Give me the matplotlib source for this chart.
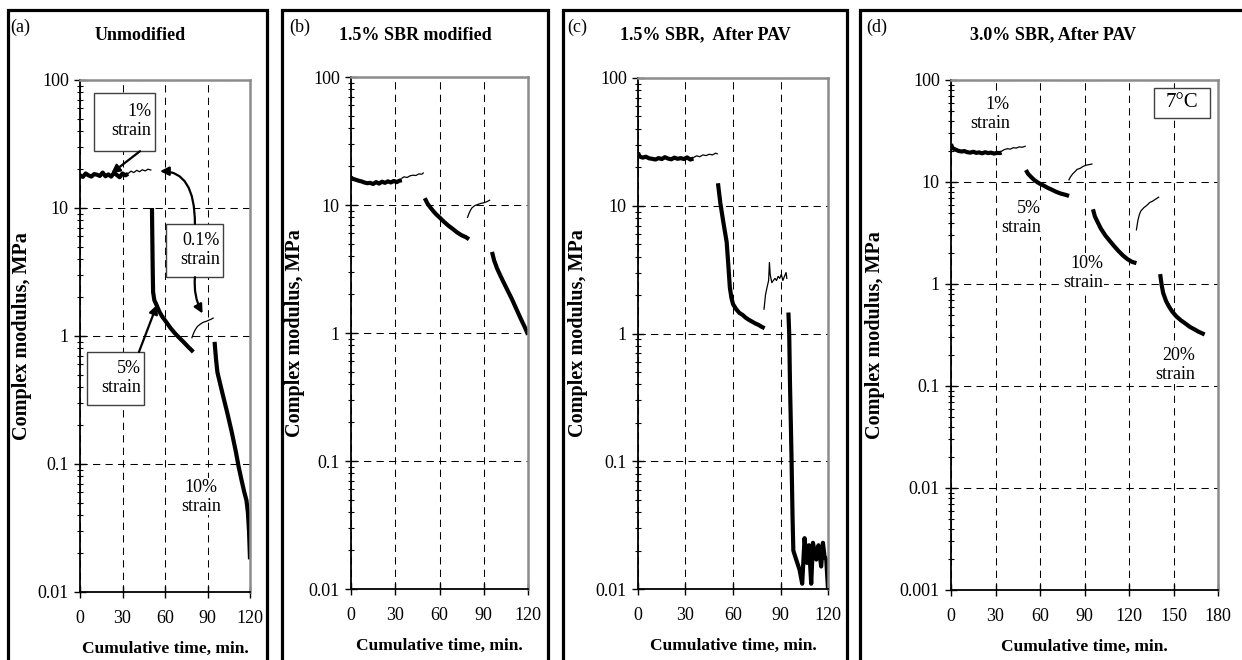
import matplotlib
matplotlib.use("Agg")
import matplotlib.pyplot as plt
from matplotlib.patches import Rectangle
from matplotlib.ticker import (LogLocator, FixedLocator, FuncFormatter, NullFormatter,
                               MultipleLocator)

plt.rcParams["font.family"] = ["Liberation Serif", "DejaVu Serif"]

# ---- data (time in min, complex modulus in MPa) ----
# (a) unmodified
A_T_1 = [0, 2, 4, 6, 8, 10, 12, 14, 16, 18, 20, 22, 24, 26, 28, 30, 32, 34]
A_G_1 = [18.0, 17.5, 18.6, 18.0, 17.6, 18.4, 18.2, 17.8, 18.9, 17.7, 18.3, 17.6, 18.8, 18.1, 17.4, 18.6, 18.0, 18.5]
A_T_01a = [34, 36, 38, 40, 42, 44, 46, 48, 50]
A_G_01a = [18.6, 19.4, 18.9, 19.7, 19.2, 19.9, 19.5, 20.1, 19.8]
A_T_5 = [50.8, 51.0, 51.3, 51.6, 52.5, 54, 56, 58, 61, 64, 67, 70, 73, 76, 78, 80]
A_G_5 = [10.0, 6.5, 3.5, 2.2, 1.9, 1.75, 1.55, 1.42, 1.28, 1.15, 1.05, 0.97, 0.90, 0.83, 0.79, 0.75]
A_T_01b = [79, 80, 81, 82, 83, 85, 87, 89, 91, 93, 94]
A_G_01b = [0.97, 1.04, 1.10, 1.15, 1.19, 1.24, 1.28, 1.30, 1.33, 1.36, 1.38]
A_T_10 = [95, 96, 97, 99, 101, 104, 107, 110, 112, 114, 116, 117.5, 118.5, 119.3, 120]
A_G_10 = [0.90, 0.66, 0.52, 0.42, 0.34, 0.25, 0.18, 0.125, 0.095, 0.075, 0.060, 0.052, 0.042, 0.030, 0.018]

# (b) 1.5% SBR modified
B_T_1 = [0, 1, 3, 5, 7, 9, 11, 13, 15, 17, 19, 21, 23, 25, 27, 29, 31, 33, 34.5]
B_G_1 = [16.5, 16.0, 15.8, 15.5, 15.3, 15.0, 14.8, 14.9, 14.6, 15.1, 14.7, 15.2, 14.9, 15.3, 15.0, 15.4, 15.1, 15.5, 15.6]
B_T_01a = [34.5, 36, 38, 40, 42, 44, 46, 48, 49]
B_G_01a = [16.2, 16.6, 16.4, 16.9, 17.1, 17.0, 17.5, 17.4, 17.8]
B_T_5 = [50, 52, 54, 56, 58, 60, 63, 66, 69, 72, 75, 78, 80]
B_G_5 = [11.3, 10.2, 9.5, 8.9, 8.4, 8.0, 7.4, 6.9, 6.5, 6.1, 5.8, 5.6, 5.4]
B_T_01b = [79, 80, 81, 82, 84, 86, 88, 90, 92, 94]
B_G_01b = [8.0, 8.6, 9.1, 9.5, 9.9, 10.1, 10.3, 10.4, 10.6, 10.9]
B_T_10 = [95.6, 97, 99, 101, 103, 106, 109, 112, 115, 118, 120]
B_G_10 = [4.3, 3.7, 3.2, 2.85, 2.55, 2.17, 1.85, 1.55, 1.3, 1.1, 0.97]

# (c) 1.5% SBR, after PAV
C_T_1 = [0, 1, 3, 5, 7, 9, 11, 13, 15, 17, 19, 21, 23, 25, 27, 29, 31, 33, 35]
C_G_1 = [26, 24.3, 23.8, 24.2, 23.5, 23.3, 23.0, 23.6, 23.2, 24.0, 23.4, 23.1, 23.8, 23.3, 23.6, 23.2, 23.9, 23.0, 23.4]
C_T_01a = [35, 37, 39, 41, 43, 45, 47, 49, 50]
C_G_01a = [23.8, 24.6, 24.2, 25.0, 24.7, 25.3, 25.0, 25.8, 25.5]
C_T_5 = [50.5, 52, 54, 56, 57, 58, 59, 60, 62, 64, 66, 68, 70, 72, 74, 76, 78, 80]
C_G_5 = [15.0, 10.5, 7.3, 5.2, 3.5, 2.3, 1.9, 1.7, 1.55, 1.45, 1.4, 1.33, 1.28, 1.24, 1.20, 1.17, 1.13, 1.10]
C_T_01b = [79.6, 80.5, 81.5, 82.5, 83, 83.5, 84.5, 85.5, 86.5, 87.5, 88.5, 89.5, 90.5, 91.5, 92.5, 93.5, 94]
C_G_01b = [1.55, 2.0, 2.3, 2.6, 3.6, 2.9, 2.5, 2.6, 2.7, 2.6, 2.8, 2.7, 2.9, 2.6, 2.8, 3.0, 2.7]
C_T_10 = [95, 95.5, 96, 96.6, 97, 97.6, 98.1, 99.9, 102, 103.7, 105.2, 106.7, 108, 109.4, 110.5,
          112.6, 114, 115.7, 116.8, 117.8, 118.9, 120]
C_G_10 = [1.46, 1.0, 0.4, 0.18, 0.1, 0.037, 0.020, 0.017, 0.0142, 0.011, 0.025, 0.016, 0.022, 0.011, 0.023,
          0.017, 0.022, 0.015, 0.023, 0.018, 0.017, 0.010]

# (d) 3.0% SBR, after PAV
D_T_1 = [0, 1, 3, 5, 7, 9, 11, 13, 15, 17, 19, 21, 23, 25, 27, 29, 31, 33, 34]
D_G_1 = [23.5, 21.5, 20.8, 20.2, 19.9, 20.1, 19.6, 19.4, 19.8, 19.3, 19.5, 19.1, 19.6, 19.2, 19.4, 19.0, 19.3, 19.2, 19.5]
D_T_01a = [34, 36, 38, 40, 42, 44, 46, 48, 50]
D_G_01a = [20.0, 20.8, 21.2, 21.0, 21.7, 21.5, 22.1, 21.9, 22.4]
D_T_5 = [50.5, 52, 54, 56, 58, 60, 62, 65, 68, 71, 74, 77, 79.6]
D_G_5 = [13.1, 12.0, 11.2, 10.5, 10.0, 9.6, 9.3, 8.8, 8.4, 8.0, 7.7, 7.5, 7.3]
D_T_01b = [79.5, 80.5, 82, 83.5, 85, 87, 89, 91, 93, 95]
D_G_01b = [10.5, 11.2, 12.0, 12.6, 13.3, 13.6, 14.2, 14.6, 14.8, 15.0]
D_T_10 = [95.7, 97, 99, 101, 104, 107, 110, 113, 116, 119, 122, 125]
D_G_10 = [5.4, 4.6, 4.0, 3.5, 3.0, 2.65, 2.35, 2.1, 1.9, 1.75, 1.65, 1.6]
D_T_01c = [125, 126, 127, 128, 130, 132, 134, 136, 138, 140]
D_G_01c = [3.4, 4.2, 4.8, 5.2, 5.6, 5.9, 6.3, 6.5, 6.8, 7.1]
D_T_20 = [141, 142, 143, 145, 147, 149, 152, 155, 158, 161, 164, 167, 171]
D_G_20 = [1.25, 0.98, 0.82, 0.68, 0.6, 0.54, 0.48, 0.44, 0.41, 0.38, 0.36, 0.34, 0.32]

PANEL_LABELS = ["(a)", "(b)", "(c)", "(d)"]
TITLES = ["Unmodified", "1.5% SBR modified", "1.5% SBR,  After PAV", "3.0% SBR, After PAV"]

W, H = 1242, 660
fig = plt.figure(figsize=(W / 100, H / 100), dpi=100)


def px_rect(x0, y0, x1, y1):
    return [x0 / W, 1 - y1 / H, (x1 - x0) / W, (y1 - y0) / H]


def style(ax, xmax, ymin, ylab_x):
    ax.set_yscale("log")
    ax.set_xlim(0, xmax)
    ax.set_ylim(ymin, 100)
    ax.xaxis.set_major_locator(MultipleLocator(30))
    ax.yaxis.set_major_locator(LogLocator(base=10, numticks=100))
    minors = [s * 10.0 ** e for e in range(-3, 2) for s in range(2, 10)]
    ax.yaxis.set_minor_locator(FixedLocator([m for m in minors if ymin < m < 100]))
    ax.yaxis.set_major_formatter(FuncFormatter(lambda v, p: f"{v:g}"))
    ax.yaxis.set_minor_formatter(NullFormatter())
    ax.grid(True, which="major", color="black", linestyle=(0, (7, 5)), linewidth=0.75)
    ax.tick_params(which="major", direction="inout", length=8, width=1.0, labelsize=13, pad=4)
    ax.tick_params(axis="x", which="major", pad=9)
    ax.tick_params(which="minor", direction="inout", length=5, width=0.8)
    ax.tick_params(axis="x", which="minor", bottom=False)
    for s in ["top", "right"]:
        ax.spines[s].set_color("#8c8c8c")
        ax.spines[s].set_linewidth(1.8)
    for s in ["left", "bottom"]:
        ax.spines[s].set_color("black")
        ax.spines[s].set_linewidth(1.3)
    ax.set_xlabel("Cumulative time, min.", fontweight="bold", fontsize=12.5)
    ax.set_ylabel("Complex modulus, MPa", fontweight="bold", fontsize=14.5)
    ax.yaxis.set_label_coords(ylab_x, 0.5)
    ax.xaxis.set_label_coords(0.5, -0.095)


def thick(ax, t, g):
    ax.plot(t, g, color="black", lw=3.0, solid_capstyle="butt")


def thin(ax, t, g):
    ax.plot(t, g, color="black", lw=0.9)


def box(ax, x0, y0, x1, y1):
    ax.add_patch(Rectangle((x0, y0), x1 - x0, y1 - y0, transform=ax.transAxes,
                           facecolor="white", edgecolor="#404040", lw=1.0, zorder=4))


def label(ax, x, y, s, ha="right", bg=True):
    kw = dict(transform=ax.transAxes, ha=ha, va="center", multialignment=ha,
              fontsize=13, linespacing=1.15, zorder=5)
    if bg:
        kw["bbox"] = dict(facecolor="white", edgecolor="none", pad=0.5)
    ax.text(x, y, s, **kw)


arrow_kw = dict(arrowstyle="-|>", color="black", lw=1.6, mutation_scale=13, shrinkA=0, shrinkB=0)

axes = [
    fig.add_axes(px_rect(80, 80, 250, 592)),
    fig.add_axes(px_rect(351, 77, 528, 589)),
    fig.add_axes(px_rect(638, 78, 828, 589)),
    fig.add_axes(px_rect(951, 80, 1218, 590)),
]
style(axes[0], 120, 0.01, -0.282)
style(axes[1], 120, 0.01, -0.26)
style(axes[2], 120, 0.01, -0.263)
style(axes[3], 180, 0.001, -0.247)

# (a)
ax = axes[0]
thick(ax, A_T_1, A_G_1)
thin(ax, A_T_01a, A_G_01a)
thick(ax, A_T_5, A_G_5)
thin(ax, A_T_01b, A_G_01b)
thick(ax, A_T_10, A_G_10)
box(ax, 0.082, 0.861, 0.441, 0.975)
label(ax, 0.42, 0.920, "1%\nstrain", bg=False)
ax.annotate("", xy=(22, 18.6), xycoords="data", xytext=(0.353, 0.861), textcoords="axes fraction",
            arrowprops=arrow_kw, zorder=6)
box(ax, 0.506, 0.615, 0.841, 0.719)
label(ax, 0.822, 0.668, "0.1%\nstrain", bg=False)
ax.annotate("", xy=(56.5, 19.4), xycoords="data", xytext=(0.676, 0.719), textcoords="axes fraction",
            arrowprops=dict(arrow_kw, connectionstyle="angle3,angleA=90,angleB=0"), zorder=6)
ax.annotate("", xy=(86.5, 1.5), xycoords="data", xytext=(0.676, 0.615), textcoords="axes fraction",
            arrowprops=dict(arrow_kw, connectionstyle="arc3,rad=0.15"), zorder=6)
box(ax, 0.041, 0.365, 0.376, 0.469)
label(ax, 0.357, 0.418, "5%\nstrain", bg=False)
ax.annotate("", xy=(54.3, 1.75), xycoords="data", xytext=(0.347, 0.469), textcoords="axes fraction",
            arrowprops=arrow_kw, zorder=6)
label(ax, 0.712, 0.186, "10%\nstrain", ha="center")

# (b)
ax = axes[1]
thick(ax, B_T_1, B_G_1)
thin(ax, B_T_01a, B_G_01a)
thick(ax, B_T_5, B_G_5)
thin(ax, B_T_01b, B_G_01b)
thick(ax, B_T_10, B_G_10)

# (c)
ax = axes[2]
thick(ax, C_T_1, C_G_1)
thin(ax, C_T_01a, C_G_01a)
thick(ax, C_T_5, C_G_5)
thin(ax, C_T_01b, C_G_01b)
thick(ax, C_T_10, C_G_10)

# (d)
ax = axes[3]
thick(ax, D_T_1, D_G_1)
thin(ax, D_T_01a, D_G_01a)
thick(ax, D_T_5, D_G_5)
thin(ax, D_T_01b, D_G_01b)
thick(ax, D_T_10, D_G_10)
thin(ax, D_T_01c, D_G_01c)
thick(ax, D_T_20, D_G_20)
label(ax, 0.221, 0.933, "1%\nstrain")
label(ax, 0.337, 0.729, "5%\nstrain")
label(ax, 0.569, 0.622, "10%\nstrain")
label(ax, 0.914, 0.441, "20%\nstrain")
box(ax, 0.760, 0.925, 0.970, 0.984)
ax.text(0.865, 0.955, "7°C", transform=ax.transAxes, ha="center", va="center", fontsize=15, zorder=5)

# panel frames, panel letters and titles
frames = [(8, 267), (282, 548), (563, 847), (860, 1260)]
title_x = [140, 415, 705, 1053]
letter_x = [10, 289, 567, 866]
for (x0, x1), tx, lx, lab, tt in zip(frames, title_x, letter_x, PANEL_LABELS, TITLES):
    fig.patches.append(Rectangle((x0 / W, -0.05), (x1 - x0) / W, 1.05 - 10 / H,
                                 transform=fig.transFigure, fill=False, lw=2.3,
                                 edgecolor="black", clip_on=False))
    fig.text(lx / W, 1 - 27 / H, lab, ha="left", va="center", fontsize=13)
    fig.text(tx / W, 1 - 35 / H, tt, ha="center", va="center", fontsize=13, fontweight="bold")

fig.savefig("out.png", dpi=100)
